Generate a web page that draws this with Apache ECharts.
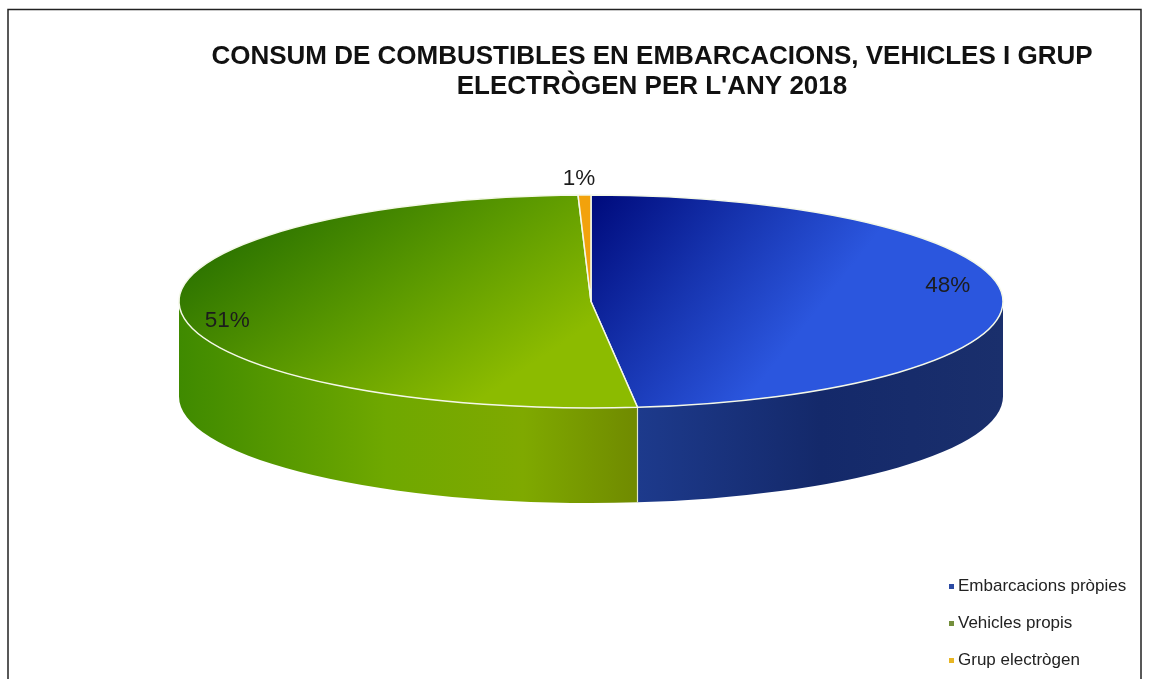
<!DOCTYPE html>
<html>
<head>
<meta charset="utf-8">
<style>html,body{margin:0;padding:0;background:#fff}#c{width:1149px;height:679px}</style>
<script src="https://cdn.jsdelivr.net/npm/echarts@6/dist/echarts.min.js"></script>
</head>
<body>
<div id="c"></div>
<script>
const categories = ['Embarcacions pròpies', 'Vehicles propis', 'Grup electrògen'];
const values = [48.2, 51.3, 0.5];
const titleLines = ["CONSUM DE COMBUSTIBLES EN EMBARCACIONS, VEHICLES I GRUP", "ELECTRÒGEN PER L'ANY 2018"];

const legendColors = ['#2b4aa3', '#748f3c', '#e8b624'];
const pie = { cx: 591, cy: 301.5, rx: 412, ry: 106.5, depth: 95 };
const labelAt = [[0.866, -0.15], [-0.883, 0.185], [-0.029, -1.15]];
const G = (x0, y0, x1, y1, stops) => new echarts.graphic.LinearGradient(x0, y0, x1, y1,
  stops.map((c, i) => ({ offset: c[0], color: c[1] })), true);
const topFill = [
  G(600, 195, 790, 345, [[0, '#000c7e'], [0.5, '#1633ae'], [1, '#2b56de']]),
  G(300, 200, 450, 420, [[0, '#2f7600'], [0.5, '#5c9a00'], [1, '#8cbb00']]),
  '#f2a20c'
];
const sideFill = [
  G(638, 0, 1003, 0, [[0, '#1d3a8c'], [0.5, '#14296a'], [1, '#1a2f6c']]),
  G(179, 0, 638, 0, [[0, '#3f8a00'], [0.45, '#6fa800'], [0.75, '#7fa900'], [1, '#708a00']]),
  '#b87a08'
];

const total = values.reduce((a, b) => a + b, 0);
const startOf = i => values.slice(0, i).reduce((a, b) => a + b, 0) / total * Math.PI * 2;
const pt = (t, dy) => [pie.cx + pie.rx * Math.sin(t), pie.cy - pie.ry * Math.cos(t) + (dy || 0)];

function renderSlice(i) {
  return function () {
    const a = startOf(i), b = startOf(i + 1);
    const p0 = pt(a), p1 = pt(b);
    const large = b - a > Math.PI ? 1 : 0;
    const children = [];
    const s = Math.max(a, Math.PI / 2), e = Math.min(b, Math.PI * 1.5);
    if (e > s) {
      const q0 = pt(s), q1 = pt(e), r0 = pt(s, pie.depth), r1 = pt(e, pie.depth);
      children.push({
        type: 'path', z2: 1,
        shape: { pathData: `M${q0[0]} ${q0[1]}A${pie.rx} ${pie.ry} 0 0 1 ${q1[0]} ${q1[1]}L${r1[0]} ${r1[1]}A${pie.rx} ${pie.ry} 0 0 0 ${r0[0]} ${r0[1]}Z` },
        style: { fill: sideFill[i], stroke: null }
      });
      if (i > 0) children.push({
        type: 'line', z2: 2,
        shape: { x1: q0[0], y1: q0[1], x2: r0[0], y2: r0[1] },
        style: { stroke: '#dfe8c8', lineWidth: 1.2 }
      });
    }
    children.push({
      type: 'path', z2: 3,
      shape: { pathData: `M${pie.cx} ${pie.cy}L${p0[0]} ${p0[1]}A${pie.rx} ${pie.ry} 0 ${large} 1 ${p1[0]} ${p1[1]}Z` },
      style: { fill: topFill[i], stroke: '#f4f8e8', lineWidth: 1.5, lineJoin: 'round' }
    });
    children.push({
      type: 'text', z2: 5,
      style: {
        x: pie.cx + labelAt[i][0] * pie.rx, y: pie.cy + labelAt[i][1] * pie.ry,
        text: Math.round(values[i] / total * 100) + '%',
        fontFamily: 'Liberation Sans, Arial, sans-serif', fontSize: 22.5,
        fill: '#1c1c1c', align: 'center', verticalAlign: 'middle'
      }
    });
    return { type: 'group', children };
  };
}

const chart = echarts.init(document.getElementById('c'), null, { renderer: 'canvas' });
chart.setOption({
  animation: false,
  backgroundColor: '#fff',
  title: {
    text: titleLines.join('\n'),
    left: 647, top: 37, textAlign: 'center',
    textStyle: { fontFamily: 'Liberation Sans, Arial, sans-serif', fontSize: 26, fontWeight: 'bold', color: '#111', lineHeight: 30 }
  },
  legend: {
    orient: 'vertical', left: 944, top: 573,
    icon: 'rect', itemWidth: 5, itemHeight: 5, itemGap: 20,
    selectedMode: false,
    textStyle: { fontFamily: 'Liberation Sans, Arial, sans-serif', fontSize: 17, color: '#222', padding: [0, 0, 0, -1] },
    data: categories
  },
  graphic: [{
    type: 'rect', silent: true, z: 100,
    shape: { x: 8, y: 9.5, width: 1133, height: 720 },
    style: { fill: 'none', stroke: '#222', lineWidth: 1.5 }
  }],
  series: categories.map((name, i) => ({
    type: 'custom', name, coordinateSystem: 'none', silent: true,
    itemStyle: { color: legendColors[i] },
    renderItem: renderSlice(i),
    data: [[values[i]]]
  }))
});
</script>
</body>
</html>
